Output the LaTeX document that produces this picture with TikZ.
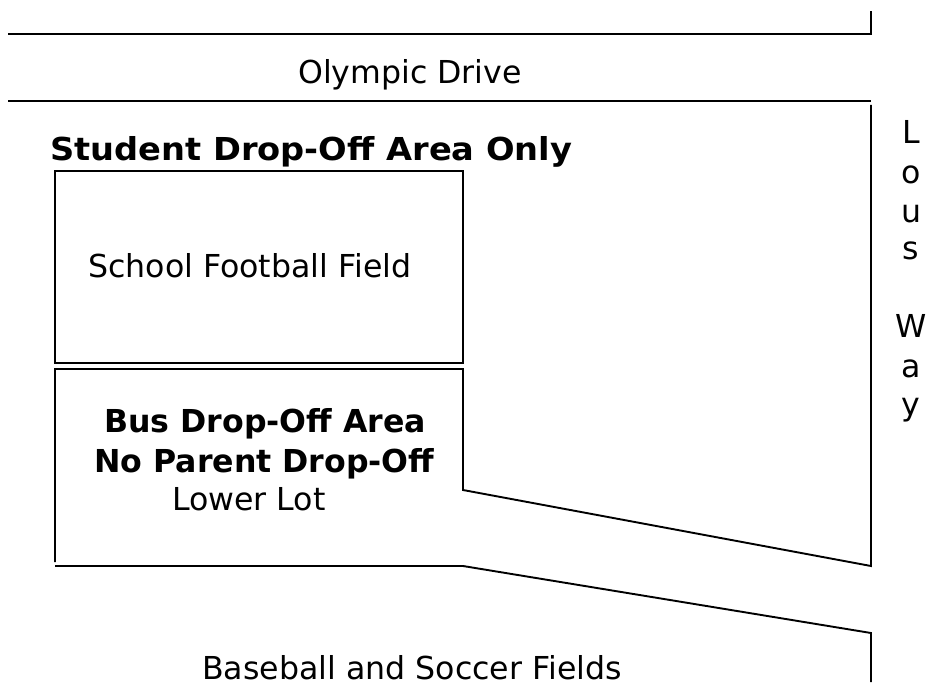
\documentclass[tikz,border=0pt]{standalone}
\usepackage{fontspec}
\setmainfont{DejaVu Sans}
\newfontfamily\widefam{DejaVu Sans}[FakeStretch=1.065]
\tikzset{
  roadline/.style={draw=black,line width=1.9pt,line join=miter},
  lbl/.style={inner sep=0pt,anchor=base west,font=\fontsize{31.6}{38}\selectfont,text=black},
  boldlbl/.style={lbl,font=\fontsize{31.6}{38}\selectfont\bfseries},
  wideboldlbl/.style={lbl,font=\fontsize{31.6}{38}\selectfont\widefam\bfseries},
  letter/.style={lbl,anchor=base}
}
\begin{document}
\begin{tikzpicture}[x=1pt,y=-1pt]
\useasboundingbox (0,0) rectangle (941,682);
\draw[roadline] (8,34) -- (871,34) -- (871,11);
\draw[roadline] (8,101) -- (871,101);
\draw[roadline] (871,105) -- (871,566) -- (463,490) -- (463,369) -- (55,369) -- (55,562);
\draw[roadline] (55,171) rectangle (463,363);
\draw[roadline] (55,566) -- (463,566) -- (871,633) -- (871,682);
\node[lbl] (olympic) at (298,84) {Olympic Drive};
\node[wideboldlbl] (student) at (50,160) {Student Drop-Off Area Only};
\node[lbl] (football) at (88,277) {School Football Field};
\node[boldlbl] (bus) at (104,432) {Bus Drop-Off Area};
\node[boldlbl] (noparent) at (94,472) {No Parent Drop-Off};
\node[lbl] (lower) at (172,510) {Lower Lot};
\node[lbl] (fields) at (202,679) {Baseball and Soccer Fields};
\node[letter] (l1) at (911,143) {L};
\node[letter] (l2) at (911,183) {o};
\node[letter] (l3) at (911,222) {u};
\node[letter] (l4) at (911,259) {s};
\node[letter] (l5) at (911,337) {W};
\node[letter] (l6) at (911,377) {a};
\node[letter] (l7) at (911,415) {y};
\end{tikzpicture}
\end{document}
